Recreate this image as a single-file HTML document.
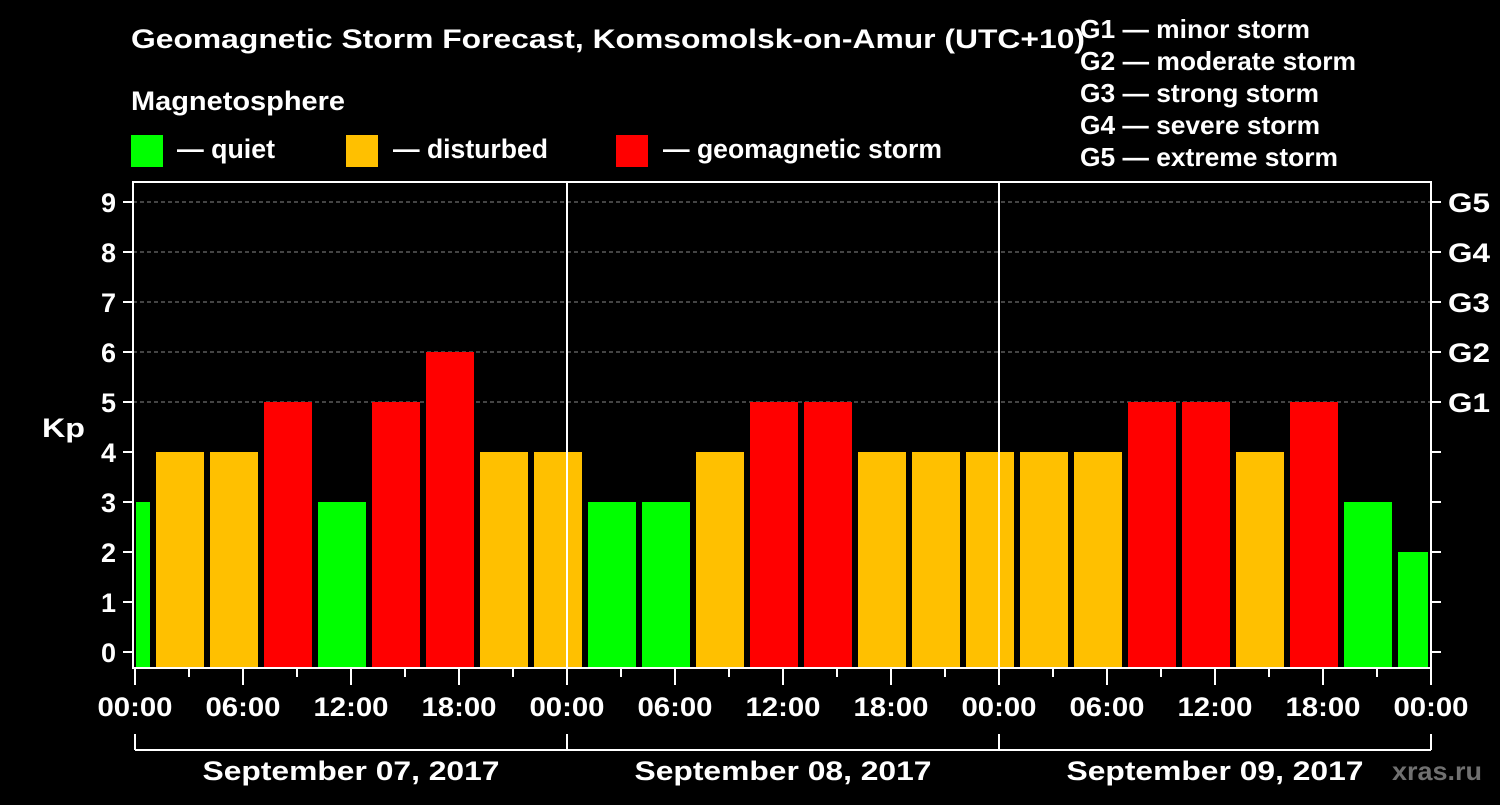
<!DOCTYPE html>
<html><head><meta charset="utf-8"><style>
body{margin:0;background:#000;width:1500px;height:800px;overflow:hidden}
svg text{font-family:"Liberation Sans",Arial,sans-serif;font-weight:bold;fill:#fff}
</style></head><body>
<svg id="c" width="1500" height="800">
<text x="131" y="48" font-size="27" textLength="954" lengthAdjust="spacingAndGlyphs">Geomagnetic Storm Forecast, Komsomolsk-on-Amur (UTC+10)</text>
<text x="131" y="110" font-size="27" textLength="214" lengthAdjust="spacingAndGlyphs">Magnetosphere</text>
<g><rect x="131" y="135" width="32" height="32" fill="#00ff00"/><text x="177" y="158" font-size="27" textLength="98" lengthAdjust="spacingAndGlyphs">— quiet</text></g>
<g><rect x="346" y="135" width="32" height="32" fill="#ffc000"/><text x="393" y="158" font-size="27" textLength="155" lengthAdjust="spacingAndGlyphs">— disturbed</text></g>
<g><rect x="616" y="135" width="32" height="32" fill="#ff0000"/><text x="663" y="158" font-size="27" textLength="279" lengthAdjust="spacingAndGlyphs">— geomagnetic storm</text></g>
<g font-size="26">
<text x="1080" y="38" textLength="230" lengthAdjust="spacingAndGlyphs">G1 — minor storm</text><text x="1080" y="70" textLength="276" lengthAdjust="spacingAndGlyphs">G2 — moderate storm</text><text x="1080" y="102" textLength="239" lengthAdjust="spacingAndGlyphs">G3 — strong storm</text><text x="1080" y="134" textLength="240" lengthAdjust="spacingAndGlyphs">G4 — severe storm</text><text x="1080" y="166" textLength="258" lengthAdjust="spacingAndGlyphs">G5 — extreme storm</text></g>
<text x="1392" y="780" font-size="26" textLength="90" lengthAdjust="spacingAndGlyphs" style="fill:#707070">xras.ru</text>
<g id="plot"></g>
</svg>
<script>
const kpValues=[3,4,4,5,3,5,6,4,4,3,3,4,5,5,4,4,4,4,4,5,5,4,5,3,2];
const timeLabels=["00:00","06:00","12:00","18:00","00:00","06:00","12:00","18:00","00:00","06:00","12:00","18:00","00:00"];
const dayLabels=["September 07, 2017","September 08, 2017","September 09, 2017"];
const kpTicks=[0,1,2,3,4,5,6,7,8,9];
const gLabels=["G1","G2","G3","G4","G5"];
const NS="http://www.w3.org/2000/svg",g=document.getElementById('plot');
const X0=135,PXH=18,L=133,R=1431,T=182,B=668;
const x=h=>X0+h*PXH, y=k=>652-k*50;
function el(t,a,p){const e=document.createElementNS(NS,t);for(const k in a)e.setAttribute(k,a[k]);(p||g).appendChild(e);return e;}
for(let k=5;k<=9;k++){const l=el('line',{x1:L,x2:R,y1:y(k),y2:y(k),stroke:'#888','stroke-dasharray':'4,3'});

}
kpValues.forEach((v,i)=>{let h0=i===0?0:1+3*(i-1),h1=Math.min(72,1+3*i);
let x0=x(h0)+(i===0?1:3),x1=x(h1)-3;
const c=v<=3?'#00ff00':v===4?'#ffc000':'#ff0000';
const r=el('rect',{x:x0,y:y(v),width:x1-x0,height:B-y(v),fill:c});

});
[1,2].forEach(d=>{const l=el('line',{x1:x(24*d),x2:x(24*d),y1:T,y2:B,stroke:'#fff','stroke-width':2});

});
const f=el('rect',{x:L,y:T,width:R-L,height:B-T,fill:'none',stroke:'#fff','stroke-width':2});


kpTicks.forEach(k=>{el('line',{x1:123,x2:L,y1:y(k),y2:y(k),stroke:'#fff','stroke-width':2});el('line',{x1:R,x2:R+10,y1:y(k),y2:y(k),stroke:'#fff','stroke-width':2});
const t=el('text',{x:116,y:y(k)+10,'font-size':27,'text-anchor':'end'});t.textContent=k;

});
gLabels.forEach((s,i)=>{const t=el('text',{x:1448,y:y(5+i)+10,'font-size':27,textLength:42,lengthAdjust:'spacingAndGlyphs'});t.textContent=s;

});
const kp=el('text',{x:42,y:437,'font-size':27,textLength:43,lengthAdjust:'spacingAndGlyphs'});kp.textContent='Kp';


for(let h=0;h<=72;h+=3){el('line',{x1:x(h),x2:x(h),y1:B,y2:h%6===0?685:677,stroke:'#fff','stroke-width':2});}
timeLabels.forEach((s,i)=>{const t=el('text',{x:x(i*6)-37.5,y:716,'font-size':27,textLength:75,lengthAdjust:'spacingAndGlyphs'});t.textContent=s;

});
el('line',{x1:x(0),x2:x(72),y1:750,y2:750,stroke:'#fff','stroke-width':2});
for(let d=0;d<=3;d++)el('line',{x1:x(24*d),x2:x(24*d),y1:734,y2:750,stroke:'#fff','stroke-width':2});
dayLabels.forEach((s,i)=>{const t=el('text',{x:x(24*i+12)-148.5,y:780,'font-size':27,textLength:297,lengthAdjust:'spacingAndGlyphs'});t.textContent=s;

});
</script>
</body></html>
